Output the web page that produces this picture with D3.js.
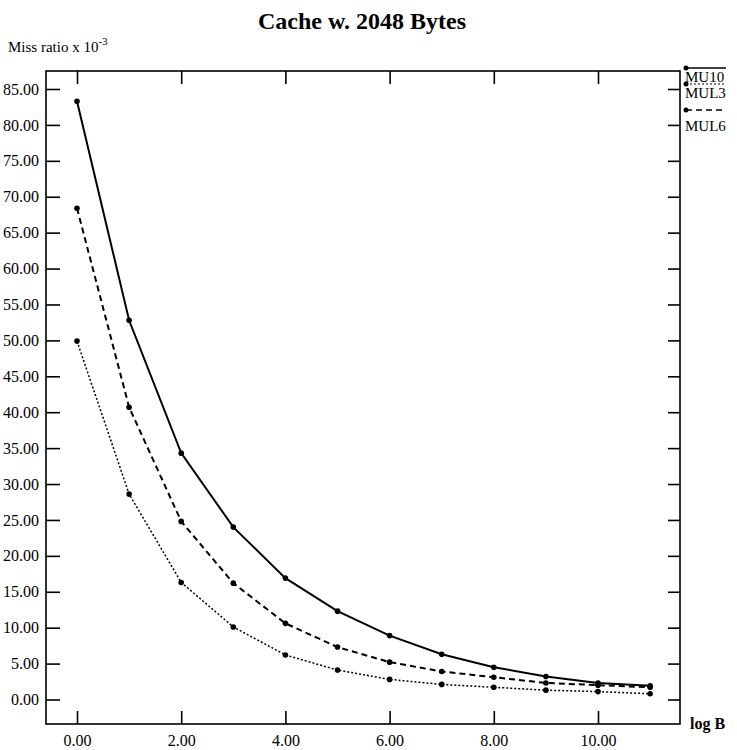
<!DOCTYPE html>
<html>
<head>
<meta charset="utf-8">
<script src="https://cdn.jsdelivr.net/npm/d3@7"></script>
<style>
  body { margin: 0; background: #fff; }
  text { font-family: "Liberation Serif", "Times New Roman", serif; fill: #000; }
</style>
</head>
<body>
<script>
// data
var logB = [0, 1, 2, 3, 4, 5, 6, 7, 8, 9, 10, 11];
var mu10 = [83.3, 52.8, 34.3, 24.0, 16.9, 12.3, 8.9, 6.3, 4.5, 3.2, 2.3, 1.9];
var mul6 = [68.4, 40.7, 24.8, 16.2, 10.6, 7.3, 5.2, 3.9, 3.1, 2.3, 2.0, 1.7];
var mul3 = [49.9, 28.6, 16.3, 10.1, 6.2, 4.1, 2.8, 2.1, 1.7, 1.3, 1.1, 0.8];
var xTicks = [0, 2, 4, 6, 8, 10];
var yTicks = [0, 5, 10, 15, 20, 25, 30, 35, 40, 45, 50, 55, 60, 65, 70, 75, 80, 85];

var series = [
  {name: "MU10", values: mu10, dash: null, width: 2},
  {name: "MUL3", values: mul3, dash: "2,2", width: 1.5},
  {name: "MUL6", values: mul6, dash: "6,4", width: 2}
];

var width = 737, height = 750;
var frame = {left: 46, right: 680, top: 71, bottom: 724};

var svg = d3.select("body").append("svg")
    .attr("width", width)
    .attr("height", height);

var x = d3.scaleLinear().domain([0, 10]).range([77, 598]);
var y = d3.scaleLinear().domain([0, 85]).range([699.5, 89]);

// title and axis labels
svg.append("text")
    .attr("x", 362).attr("y", 29)
    .attr("text-anchor", "middle")
    .attr("font-size", "24px")
    .attr("font-weight", "bold")
    .text("Cache w. 2048 Bytes");

var yl = svg.append("text")
    .attr("x", 8).attr("y", 52)
    .attr("font-size", "15px")
    .text("Miss ratio x 10");
yl.append("tspan").attr("dy", -7).attr("font-size", "11px").text("-3");

svg.append("text")
    .attr("x", 690).attr("y", 729)
    .attr("font-size", "16px")
    .attr("font-weight", "bold")
    .text("log B");

// frame
svg.append("rect")
    .attr("x", frame.left).attr("y", frame.top)
    .attr("width", frame.right - frame.left)
    .attr("height", frame.bottom - frame.top)
    .style("fill", "none")
    .style("stroke", "black")
    .style("stroke-width", 1.6);

// axes, ticks pointing inward
var axisLeft = d3.axisLeft(y).tickValues(yTicks).tickSize(-14).tickPadding(8)
    .tickFormat(d3.format(".2f"));
var gl = svg.append("g").attr("transform", "translate(" + frame.left + ",0)").call(axisLeft);

var axisRight = d3.axisRight(y).tickValues(yTicks).tickSize(-12).tickFormat("");
var gr = svg.append("g").attr("transform", "translate(" + frame.right + ",0)").call(axisRight);

var axisBottom = d3.axisBottom(x).tickValues(xTicks).tickSize(-13).tickPadding(11)
    .tickFormat(d3.format(".2f"));
var gb = svg.append("g").attr("transform", "translate(0," + frame.bottom + ")").call(axisBottom);

var axisTop = d3.axisTop(x).tickValues(xTicks).tickSize(-13).tickFormat("");
var gt = svg.append("g").attr("transform", "translate(0," + frame.top + ")").call(axisTop);

[gl, gr, gb, gt].forEach(function(g) {
  g.select(".domain").remove();
  g.selectAll(".tick line").style("stroke", "black").style("stroke-width", 1.6);
  g.selectAll(".tick text")
    .style("font-family", "Liberation Serif, serif")
    .style("font-size", "16px")
    .style("fill", "black");
});
gl.selectAll(".tick text").attr("x", -7);

// lines
var line = d3.line()
    .x(function(d, i) { return x(logB[i]); })
    .y(function(d) { return y(d); });

series.forEach(function(s) {
  svg.append("path")
      .datum(s.values)
      .attr("d", line)
      .style("fill", "none")
      .style("stroke", "black")
      .style("stroke-width", s.width)
      .style("stroke-dasharray", s.dash);
  svg.selectAll(null)
      .data(s.values)
      .enter()
      .append("circle")
      .attr("cx", function(d, i) { return x(logB[i]); })
      .attr("cy", function(d) { return y(d); })
      .attr("r", 2.8)
      .style("fill", "black");
});

// legend at right edge
var legY = [68, 84, 110];
var legText = [82, 98, 131];
series.forEach(function(s, i) {
  svg.append("line")
      .attr("x1", 686).attr("x2", 726)
      .attr("y1", legY[i]).attr("y2", legY[i])
      .style("stroke", "black")
      .style("stroke-width", s.width * 0.8)
      .style("stroke-dasharray", s.dash);
  svg.append("circle")
      .attr("cx", 686).attr("cy", legY[i])
      .attr("r", 2.5)
      .style("fill", "black");
  svg.append("text")
      .attr("x", 685).attr("y", legText[i])
      .attr("font-size", "15px")
      .text(s.name);
});
</script>
</body>
</html>
